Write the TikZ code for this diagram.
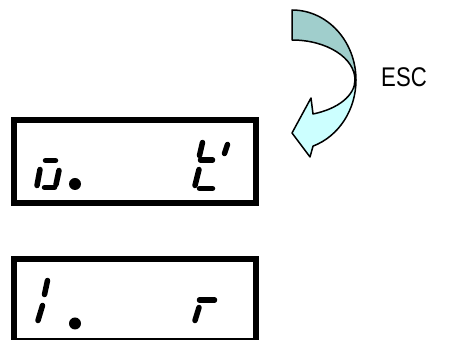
\documentclass[tikz,border=0pt]{standalone}
\usepackage{graphicx}
\usepackage{fontspec}
\setmainfont{Liberation Sans}
\definecolor{arrowdark}{RGB}{160,206,204}
\definecolor{arrowlight}{RGB}{204,255,255}
\tikzset{
  lcdbox/.style={draw=black, line width=6.5pt},
  segm/.style={draw=black, line width=5.5pt, line cap=round},
  dotm/.style={fill=black},
  arrowpart/.style={draw=black, line width=1.5pt, line join=round},
}
\begin{document}
\begin{tikzpicture}[x=1pt,y=1pt]
\useasboundingbox (0,0) rectangle (456,340);
% displays
\draw[lcdbox] (14,220) rectangle (256,137);
\draw[lcdbox] (14,81) rectangle (256,-1);
% box 1, digit 1 "o."
\draw[segm] (45.5,179.5) -- (55.5,179.5);
\draw[segm] (44.5,152.5) -- (54.5,152.5);
\draw[segm] (40,170.5) -- (37,154.5);
\draw[segm] (59,169.5) -- (56,155.5);
\fill[dotm] (75,156) circle (6);
% box 1, digit 2
\draw[segm] (202.5,197.5) -- (199.5,184.5);
\draw[segm] (200.5,180) -- (212.5,180);
\draw[segm] (227.5,195.5) -- (224.5,186.5);
\draw[segm] (199,170.5) -- (195,154.5);
\draw[segm] (199.5,151.5) -- (212.5,151.5);
% box 2, "1."
\draw[segm] (47.5,59.5) -- (44.5,45.5);
\draw[segm] (42.5,34.5) -- (38,19.5);
\fill[dotm] (75,16.5) circle (6);
% box 2, "r"
\draw[segm] (199.5,40) -- (214.5,40);
\draw[segm] (199,32.5) -- (195,19.5);
% curved arrow
\filldraw[arrowpart, fill=arrowdark] (292,330) arc[start angle=90, end angle=0, x radius=64, y radius=70]
  -- (355,260) arc[start angle=0, end angle=90, x radius=63, y radius=40] -- cycle;
\filldraw[arrowpart, fill=arrowlight] (356,260) arc[start angle=0, end angle=-70.8, x radius=64, y radius=70]
  -- (310,183) -- (292,207) -- (311,242) -- (313,226)
  arc[start angle=-70.5, end angle=0, x radius=63, y radius=36] -- cycle;
\node (esc) at (404,263) {\scalebox{0.82}[1]{\fontsize{27}{31}\selectfont ESC}};
\end{tikzpicture}
\end{document}
